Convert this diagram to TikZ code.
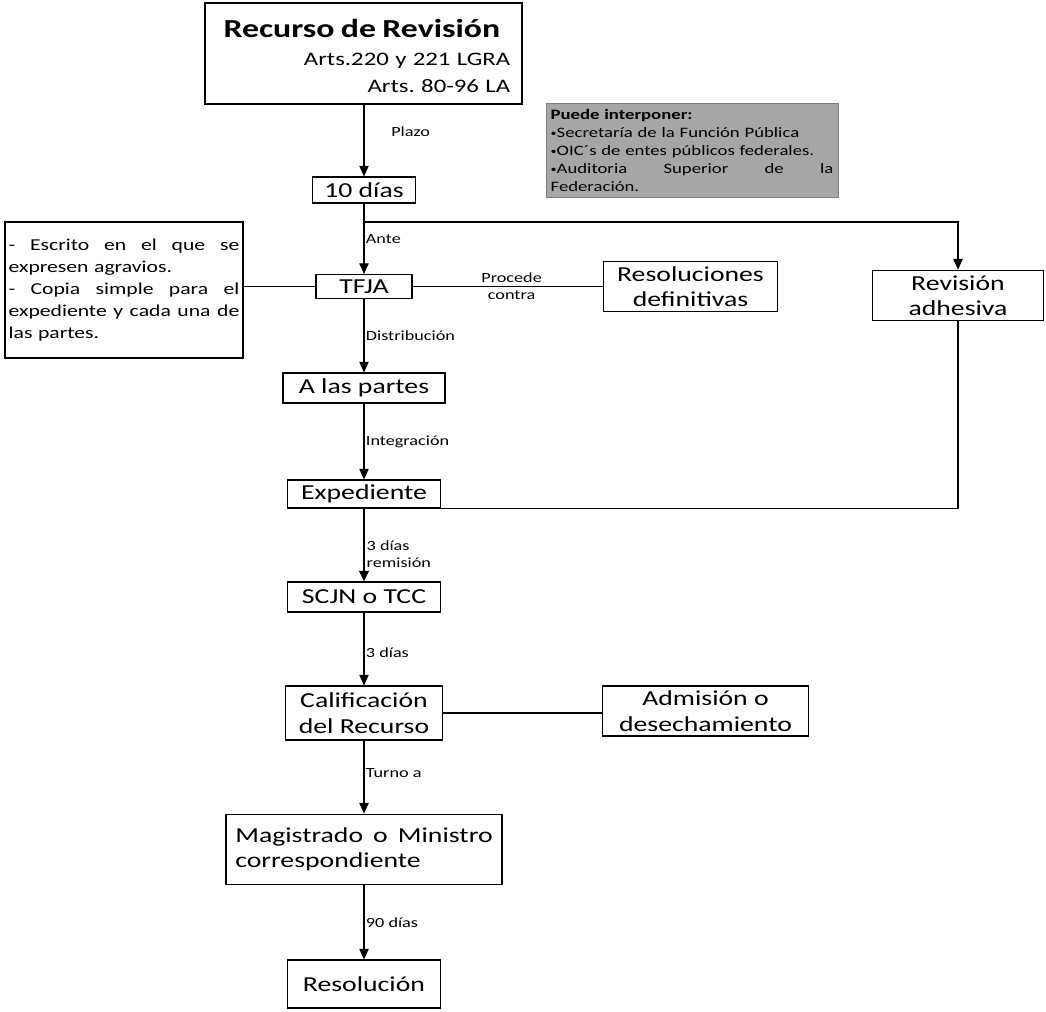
\documentclass[tikz,border=0pt]{standalone}
\usepackage{fontspec}
\setmainfont{Carlito}[FakeStretch=1.3]
\usepackage{xcolor}
\usetikzlibrary{arrows.meta, positioning}
\definecolor{Note_Gray}{HTML}{A6A6A6}
\definecolor{Note_Edge}{HTML}{7F7F7F}
\newcommand{\smallbul}{\raisebox{0.12ex}{\scalebox{0.65}{•}}}
\frenchspacing

\begin{document}
\begin{tikzpicture}[x=0.75pt, y=-0.75pt,
    box/.style={draw, line width=0.8pt, inner sep=2pt, align=center, font={\fontsize{16}{19}\selectfont}},
    lbl/.style={anchor=west, inner sep=1pt, align=left, font={\fontsize{10.5}{12.5}\selectfont}},
    flow/.style={-{Triangle[width=7pt,length=8pt]}, line width=0.9pt},
    link/.style={line width=0.8pt}]
    \useasboundingbox (0,0) rectangle (1046,1011);

    % Heading box
    \node[box, minimum width=237.75pt, minimum height=75.75pt, inner ysep=0pt, text height=25.5pt, text depth=50.25pt,
          text width=220pt, align=right, font={\fontsize{14.3}{20.5}\selectfont}] (title) at (363.5,53.5)
        {\makebox[\hsize][l]{\hspace{5pt}\fontsize{19.5}{23}\selectfont\bfseries Recurso de Revisión}\\[0.5pt]
         Arts.220 y 221 LGRA\\ Arts. 80-96 LA};

    % Who may file (gray note)
    \node[draw=Note_Edge, fill=Note_Gray, line width=0.6pt, minimum width=219pt, minimum height=71pt,
          text width=212pt, align=left, inner sep=2pt, font={\fontsize{10.8}{13.4}\selectfont}] (who) at (692,150.5)
        {\textbf{Puede interponer:}\\
         \smallbul Secretaría de la Función Pública\\
         \smallbul OIC´s de entes públicos federales.\\
         \smallbul Auditoria\hfill Superior\hfill de\hfill la\\
         Federación.};

    % Main column
    \node[box, minimum width=77pt, minimum height=19.5pt] (ten) at (364,190) {10 días};
    \node[box, minimum width=72pt, minimum height=18pt] (tfja) at (364,286.5) {TFJA};
    \node[box, minimum width=121.5pt, minimum height=22.5pt] (partes) at (364,388) {A las partes};
    \node[box, minimum width=115pt, minimum height=21pt] (exped) at (364,494) {Expediente};
    \node[box, minimum width=115pt, minimum height=22.5pt] (scjn) at (364,597) {SCJN o TCC};
    \node[box, minimum width=118pt, minimum height=40.5pt] (calif) at (364,713) {Calificación\\del Recurso};
    \node[box, minimum width=207pt, minimum height=53pt, text width=193pt, inner xsep=7pt, align=left] (magis) at (364,849.5)
        {Magistrado\hfill o\hfill Ministro\\correspondiente};
    \node[box, minimum width=115pt, minimum height=36pt] (resol) at (364,984) {Resolución};

    % Side boxes
    \node[draw, line width=0.8pt, minimum width=178.5pt, minimum height=102pt, text width=173pt, align=left,
          inner sep=2pt, font={\fontsize{12.5}{16.5}\selectfont}] (reqs) at (124,290)
        {-\hfill Escrito\hfill en\hfill el\hfill que\hfill se\\
         expresen agravios.\\
         -\hfill Copia\hfill simple\hfill para\hfill el\\
         expediente\hfill y\hfill cada\hfill una\hfill de\\
         las partes.};
    \node[box, minimum width=131pt, minimum height=37pt] (resdef) at (690.5,286.5) {Resoluciones\\definitivas};
    \node[box, minimum width=128pt, minimum height=38pt] (revad) at (958,295.5) {Revisión\\adhesiva};
    \node[box, minimum width=154pt, minimum height=37.5pt] (admis) at (705.5,711) {Admisión o\\desechamiento};

    % Flow arrows
    \draw[flow] (title.south -| ten.north) -- (ten.north) node[lbl, pos=0.38, xshift=19pt] (plazo) {Plazo};
    \coordinate (split) at (364,222);
    \draw[flow] (ten.south) -- (tfja.north) node[lbl, pos=0.5] (ante) {Ante};
    \draw[flow] (split) -| (revad.north);
    \draw[flow] (tfja.south) -- (partes.north) node[lbl, midway] (distr) {Distribución};
    \draw[flow] (partes.south) -- (exped.north) node[lbl, pos=0.5] (integ) {Integración};
    \draw[flow, line width=2pt] (exped.south) -- (scjn.north) node[lbl, pos=0.63] (remis) {3 días\\remisión};
    \draw[flow] (scjn.south) -- (calif.north) node[lbl, pos=0.55] (tres) {3 días};
    \draw[flow] (calif.south) -- (magis.north) node[lbl, pos=0.45] (turno) {Turno a};
    \draw[flow] (magis.south) -- (resol.north) node[lbl, pos=0.5] (noventa) {90 días};

    % Side links
    \draw[link] (reqs.east |- tfja.west) -- (tfja.west);
    \draw[link] (tfja.east) -- (resdef.west |- tfja.east) node[lbl, anchor=center, midway, xshift=3pt, align=center] (procede) {Procede\\contra};
    \draw[link] (revad.south) |- (exped.south east);
    \draw[link] (calif.east) -- (admis.west |- calif.east);
\end{tikzpicture}
\end{document}
